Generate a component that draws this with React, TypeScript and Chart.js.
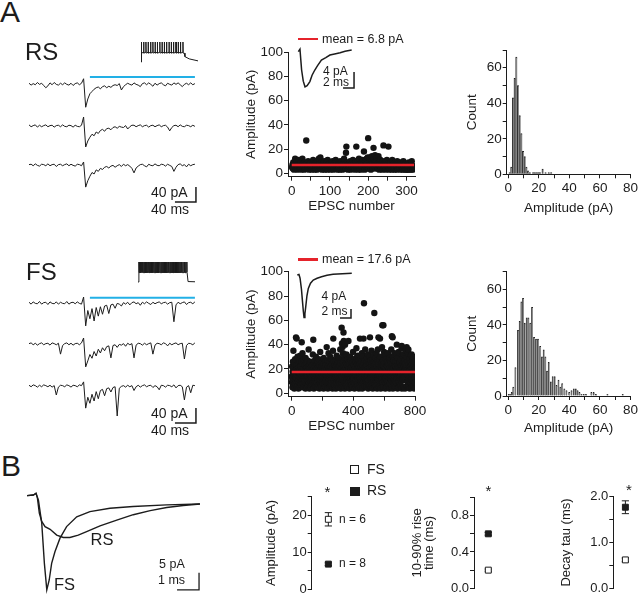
import React, { useEffect, useRef } from 'react';
import { Chart, registerables } from 'chart.js';

Chart.register(...registerables);

const FONT = "'Liberation Sans', Arial, Helvetica, sans-serif";
const INK = '#1c1c1c';
const RED = '#e5232b';
const BLUE = '#22b0e6';
Chart.defaults.font.family = FONT;
Chart.defaults.color = INK;

// ================= DATA =================
// Panel A example traces (pA relative to baseline), one sample every 4 ms
const TRACE_DT_MS = 4;
const rsTrace1 = [2,-3,1,-2,4,-1,2,-4,-10,-5, 3,-2,4,-1,-3,2,-2,3,-1,-3, 2,-4,1,3,-2,2, 14,-62,-40,-26,
  -20,-14,-10,-8,-13,-7,-5,-10,-6,-9, -4,-2,-4,1,-16,-7,-2,2,-1,-3, 3,-1,-3,-7,1,3,-2,3,-1,-6,
  2,-3,1,3,-2,-5,2,-1,-3,3, -1,3,-2,-7,-1,2,-2,3,-2,1];
const rsTrace2 = [3,-2,1,3,-3,2,-2,1,3,-2, 1,2,-3,1,2,-2,3,-1,-2,2, 1,-3,2,-1,-2,2, 24,-56,-40,-30,
  -22,-26,-16,-20,-12,-9,-14,-7,-6,-10, -4,-2,-6,-1,-3,-4,1,-8,-2,2, 2,-2,1,3,-2,1,2,-3,1,2,
  -2,1,3,-2,1,2,-3,-13,-4,1, 2,-2,3,-1,-2,2,1,-2,2,-1];
const rsTrace3 = [1,2,-2,3,-1,-3,2,1,-2,3, -2,1,2,-4,1,2,-2,1,3,-2, 2,-1,-3,2,1,-2, 8,-59,-42,-30,
  -20,-24,-13,-17,-9,-12,-6,-4,-8,-3, -1,-6,-2,1,-4,2,-2,1,-3,-9, -21,-8,-3,1,2,-2,-5,2,-1,-2,
  3,-1,-2,2,1,-3,2,-1,-4,-17, -6,1,3,-2,1,-5,2,-2,1,2];
const fsTrace1 = [2,-3,3,-1,-2,4,-3,1,2,-4, 3,-1,-2,3,-3,2,-1,-2,4,-3, 1,2,-2,3,-1,-3, 16,-61,-20,-42,
  -15,-48,-12,-35,-10,-30,-8,-6,-28,-5, -3,-14,-1,-3,-8,1,-3,2,-5,1, 3,-2,1,-6,2,-2,3,-1,-4,2,
  -2,1,3,-2,1,2,-3,1,2,-50, -5,2,-2,1,3,-4,1,2,-2,3];
const fsTrace2 = [1,3,-2,2,-3,1,3,-2,1,2, -3,3,1,-2,2,-27,-4,1,3,-2, 2,-3,1,2,-2,3, 16,-61,-45,-28,
  -38,-20,-32,-14,-24,-10,-18,-7,-5,-37, -4,-2,-9,-1,-3,1,-6,2,-2,1, -37,-3,2,1,-3,2,-2,1,3,-27,
  -3,2,1,-2,3,1,-5,2,-2,1, 3,-2,1,2,-40,-4,2,1,-2,3];
const fsTrace3 = [2,-2,3,1,-3,2,-2,3,1,-2, 2,-3,1,-24,-3,2,1,-2,3,1, -3,2,1,-2,3,1, 11,-59,-30,-46,
  -22,-40,-15,-34,-12,-9,-26,-7,-5,-16, -4,-2,-80,-6,-1,1,-3,2,-2,1, -12,-2,2,-3,1,3,-2,1,2,-4,
  1,-2,-10,2,1,-3,2,1,-2,3, -5,1,2,-2,-37,-3,1,-18,2,1];
const stimWindowMs = [116, 316];
const traceScaleBar = { pA: 40, ms: 40 };

// current-clamp spike trains (ms, mV)
const rsSpikeTimes = [2, 12, 22, 32, 43, 53, 63, 73, 84, 94, 104, 114, 125, 135, 145, 156, 166, 176, 187];
const fsSpikeTimes = [4,7,11,15,18,22,26,30,33,37,41,45,49,52,56,60,64,68,71,75,79,83,87,91,95,98,102,106,110,114,
  118,122,126,130,134,138,142,146,150,154,158,163,167,171,175,179,183,188,192,196,200,205,209,213,218];
const spikeLevels = { rest: -70, peak: 20, trough: -30 };
const rsSpikeTail: [number, number][] = [[193, -30], [196, -46], [215, -56], [254, -65]];
const fsSpikeTail: [number, number][] = [[222, -28], [223, -68], [254, -69]];

// averaged EPSC insets (ms, pA)
const rsEpscInset: [number, number][] = [[0,-0.4],[0.3,0.2],[0.6,-5],[0.9,-7.8],[1.22,-9.2],[1.6,-8.9],[2.1,-7.9],[2.5,-6.3],
  [3.0,-5],[3.5,-3.9],[4.2,-2.5],[5.0,-1.9],[5.75,-1.25],[6.6,-1.0],[7.6,-0.7],[8.5,-0.3],[9.7,0]];
const fsEpscInset: [number, number][] = [[0,-0.75],[0.3,-0.5],[0.5,-2.2],[0.75,-7],[0.92,-11.9],[1.1,-17],[1.22,-19.6],
  [1.38,-18],[1.53,-14.9],[1.75,-10],[2.0,-6.7],[2.4,-4.4],[2.9,-3],[3.6,-2.2],[4.4,-1.5],[5.4,-0.9],[6.5,-0.45],[8.2,-0.2],[9.9,0]];
const insetScaleBar = { pA: 4, ms: 2 };

// EPSC amplitudes (pA) by EPSC number
const rsAmps = [
  5,7,4,9,6,3,8,5,12,6,4,7,5,10,3,6,8,4,11,5,
  6,4,9,5,3,7,6,12,4,8,5,6,3,9,7,4,5,27,6,8,
  4,6,10,5,3,7,8,4,6,9,5,3,6,7,4,11,5,6,8,3,
  7,5,4,9,6,3,10,5,7,4,12,6,8,5,13,4,6,9,3,7,
  5,6,4,8,10,3,6,5,7,4,9,6,3,11,5,7,4,6,8,5,
  3,7,6,4,9,5,10,6,3,8,4,7,5,6,11,4,6,9,5,3,
  6,8,4,5,7,3,10,6,4,9,5,7,3,6,8,4,12,5,6,7,
  4,17,22,6,5,9,3,7,4,8,6,5,10,3,7,6,4,9,5,11,
  6,4,8,5,3,7,6,10,22,4,5,9,6,3,7,12,5,4,8,6,
  3,7,5,9,11,4,6,8,18,5,3,7,10,6,4,12,8,5,13,29,
  6,4,9,13,5,7,3,11,6,14,8,4,12,21,6,9,5,15,7,4,
  10,6,13,5,8,4,14,7,3,9,6,11,5,4,8,6,3,10,7,23,
  5,8,4,6,9,3,7,5,11,4,6,8,22,5,3,7,6,4,9,5,
  6,3,11,5,7,4,8,6,3,5,9,4,7,6,3,10,5,4,8,6,
  4,7,5,3,9,6,4,8,5,3,7,10,4,6,5,3,8,4,6,3,
  5,7,3,6,4,9,3,5,8,4,6,3,7,10,4,5,3,6,4,5];
const fsAmps = [
  14,9,22,12,5,18,10,26,13,8,35,16,11,21,6,15,4,24,12,17,8,28,11,14,19,7,13,46,10,16,23,45,5,12,20,6,15,30,11,18,
  10,25,13,4,17,12,21,9,27,14,6,19,11,16,31,5,13,22,10,15,7,18,12,26,42,9,14,20,11,33,16,8,24,13,5,19,12,28,10,15,
  12,9,17,23,11,6,14,20,4,29,13,10,18,7,25,12,16,5,21,14,8,27,11,15,19,6,13,22,10,36,17,9,12,24,4,14,20,11,16,7,
  18,12,26,5,15,10,21,13,7,17,11,23,14,8,19,12,32,9,16,44,10,20,13,4,25,15,11,18,9,27,12,16,6,22,14,10,30,13,19,5,
  15,11,24,9,17,13,5,21,12,26,10,16,19,7,14,28,11,13,23,4,18,12,15,8,34,10,20,14,11,17,7,22,13,5,16,25,12,10,19,14,
  11,18,8,24,13,15,4,29,12,17,9,21,14,6,19,12,26,10,16,13,5,23,11,18,15,9,38,14,20,12,17,7,27,13,4,22,15,9,33,11,
  16,12,20,8,25,14,5,18,13,30,9,15,22,11,17,6,28,12,19,14,10,24,13,16,4,21,12,35,15,45,11,18,9,26,14,20,5,7,23,16,
  13,10,19,27,12,15,4,22,14,18,11,31,9,16,24,13,20,6,17,12,26,10,15,21,5,9,29,12,18,13,23,8,16,11,36,14,19,4,25,12,
  15,20,9,54,13,41,17,11,24,38,12,18,33,5,26,50,10,43,16,22,9,30,13,19,4,40,15,27,8,21,14,17,25,6,32,10,19,13,23,16,
  11,28,14,5,18,22,12,43,15,20,10,26,13,17,4,24,15,11,30,14,19,12,21,9,27,16,6,7,22,15,18,11,25,14,5,20,13,34,12,17,
  9,23,15,12,19,28,4,16,14,21,8,18,13,26,10,22,15,5,29,37,14,17,11,24,9,20,13,31,6,12,25,10,18,14,22,4,27,15,11,19,
  13,24,45,16,10,21,5,28,12,18,9,26,15,11,33,17,20,4,23,10,16,30,12,19,14,45,11,25,74,17,13,21,6,27,15,12,36,18,10,22,
  14,19,11,25,5,9,23,13,29,12,17,20,10,15,32,4,22,8,18,26,11,16,24,14,6,21,30,46,13,17,12,27,15,19,5,23,14,35,11,18,
  16,9,22,13,28,4,19,15,25,10,18,14,31,11,21,66,13,26,5,17,24,12,15,20,10,29,6,18,11,33,16,22,13,4,27,15,19,12,36,14,
  11,24,46,17,13,20,5,28,15,12,19,14,45,9,22,16,30,4,18,13,25,10,17,21,14,38,12,56,16,23,9,19,27,5,56,15,11,22,34,14,
  18,12,25,10,16,21,4,31,9,20,13,17,28,11,15,23,5,19,10,26,14,9,22,16,33,6,18,13,24,11,20,15,29,4,17,13,21,8,27,16,
  12,19,14,25,11,36,5,22,13,47,17,10,24,14,46,20,4,30,16,9,21,13,27,11,18,6,33,12,23,14,10,19,16,26,5,22,9,17,31,15,
  14,40,12,20,16,25,4,18,29,13,22,15,10,34,17,5,24,14,19,9,26,13,18,11,21,6,28,12,15,23,10,19,37,39,4,22,12,31,17,13,
  20,11,25,15,5,18,32,13,22,16,12,27,14,19,4,24,15,35,13,21,17,11,29,14,20,38,6,23,16,10,26,13,19,15,33,5,36,18,14,24,
  12,21,16,10,28,4,19,13,25,15,9,22,17,31,12,20,5,32,16,11,24,13,18,27,10,21,15,6,30,17,14,23,11,19,4,26,13,20,9,18];
const rsMean = 6.8;
const fsMean = 17.6;

// amplitude histograms (bin centre pA, count)
const rsHistCenters = [1.0,2.1,3.2,4.3,5.4,6.5,7.6,8.7,9.8,10.9,12.0,13.1,14.2,16.4,17.5,18.6,19.7,20.8,22.6,24.5,26.6,28.2];
const rsHistCounts = [1,4,43,54,66,50,33,23,13,10,4,2,1,1,1,1,1,1,3,1,1,1];
const fsHistCenters = [0.4,1.4,2.4,3.4,4.8,6.5,7.6,8.7,9.8,10.9,12.2,13.3,14.5,15.7,17,18.3,19.6,21,22.2,23.3,
  24.4,25.5,26.6,28,29.2,30.5,31.7,33,34.2,35.4,36.8,38.2,40,41.5,43,44.3,45.5,46.7,48,49.5,51,54.5,56,57.5,65,75];
const fsHistCounts = [1,1,2,5,16,37,42,53,55,41,44,44,41,50,33,32,32,28,22,26,22,14,19,8,11,11,6,9,5,7,
  4,3,2,3,4,4,3,2,1,1,1,2,2,1,1,1];

// Panel B averaged EPSCs (ms, pA)
const fsAvgEpsc: [number, number][] = [[0,0.1],[0.29,0.3],[0.41,0.8],[0.47,-0.4],[0.52,-1.2],[0.67,-8],[0.79,-19.8],[0.9,-27.6],
  [1.01,-24.7],[1.12,-19.8],[1.27,-16.4],[1.5,-12.4],[1.8,-9],[2.26,-6.1],[2.86,-4.6],[3.77,-3.6],[4.82,-3.1],[6.35,-2.6],[7.86,-2.35]];
const rsAvgEpsc: [number, number][] = [[0,0.1],[0.29,0.3],[0.41,0.8],[0.47,-0.4],[0.56,-5],[0.67,-7.5],[0.82,-9],[1.05,-9.8],
  [1.35,-11.5],[1.65,-12.2],[1.95,-12.2],[2.33,-11.5],[2.71,-10.5],[3.32,-8.8],[4.08,-7.1],[4.83,-5.5],[5.6,-4.3],[6.35,-3.4],[7.1,-2.8],[7.86,-2.35]];
const avgScaleBar = { pA: 5, ms: 1 };

// Panel B group summaries: [FS, RS]
const ampMean = [18.9, 6.8];
const ampSem = [1.8, 0.35];
const riseMean = [0.2, 0.6];
const riseSem = [0.012, 0.015];
const tauMean = [0.62, 1.77];
const tauSem = [0.04, 0.14];

// ================= HELPERS =================
type Rect = [number, number, number, number];
type Area = [number, number, number, number];

function base(padding: any) {
  return {
    responsive: false, animation: false, devicePixelRatio: 1, events: [],
    layout: { padding },
    plugins: { legend: { display: false }, tooltip: { enabled: false }, title: { display: false } },
  };
}
function frame(c: Rect, a: Area, xVisible: boolean, yVisible: boolean) {
  const [cl, ct, cw, ch] = c;
  const [al, at, ar, ab] = a;
  return {
    padding: { left: yVisible ? 0 : al - cl, top: at - ct, right: cl + cw - ar, bottom: xVisible ? 0 : ct + ch - ab },
    yW: al - cl,
    xH: ct + ch - ab,
  };
}
const hidden = (min: number, max: number) => ({ type: 'linear', display: false, min, max });
const every = (n: number, fmt: (v: number) => string) => (v: number) =>
  Math.abs(v / n - Math.round(v / n)) < 1e-6 ? fmt(v) : '';
function axis(o: { pos: 'left' | 'bottom'; min: number; max: number; ticks: number[]; label: (v: number) => string;
  size: number; title: string | string[]; titleSize: number; titleLH?: number; fit: number; }) {
  return {
    type: 'linear', position: o.pos, min: o.min, max: o.max, offset: false,
    afterBuildTicks: (s: any) => { s.ticks = o.ticks.map((v) => ({ value: v })); },
    afterFit: (s: any) => { if (o.pos === 'left') s.width = o.fit; else s.height = o.fit; },
    ticks: { autoSkip: false, maxRotation: 0, minRotation: 0, padding: o.pos === 'left' ? 1 : 2,
      font: { size: o.size }, color: INK, callback: (v: number) => o.label(v) },
    grid: { display: true, drawOnChartArea: false, drawTicks: true, tickLength: 4, color: INK, lineWidth: 1, offset: false },
    border: { display: true, color: INK, width: 1 },
    title: { display: true, text: o.title, color: INK, padding: 0, font: { size: o.titleSize, lineHeight: o.titleLH ?? 1.2 } },
  };
}
const line = (data: any[], color: string, width: number) => ({
  data, borderColor: color, borderWidth: width, pointRadius: 0, tension: 0, fill: false, showLine: true,
});

// ---- Panel A traces ----
function traceConfig(traces: number[][], baselines: number[], stimLevel: number, sbCorner: [number, number]) {
  const ds: any[] = traces.map((tr, k) =>
    line(tr.map((v, i) => ({ x: i * TRACE_DT_MS, y: v + baselines[k] })), INK, 1));
  ds.push(line([{ x: stimWindowMs[0], y: stimLevel }, { x: stimWindowMs[1], y: stimLevel }], BLUE, 2));
  ds.push(line([{ x: sbCorner[0] - traceScaleBar.ms, y: sbCorner[1] }, { x: sbCorner[0], y: sbCorner[1] },
    { x: sbCorner[0], y: sbCorner[1] + traceScaleBar.pA }], INK, 1.5));
  return {
    type: 'line', data: { datasets: ds },
    options: { ...base(0), scales: { x: hidden(0, 323.8), y: hidden(-373.3, 0) } },
  };
}
function spikeConfig(times: number[], trough: number, tail: [number, number][]) {
  const pts: any[] = [{ x: 0, y: spikeLevels.rest }, { x: times[0], y: spikeLevels.rest }];
  times.forEach((t, i) => {
    pts.push({ x: t, y: spikeLevels.peak });
    pts.push({ x: t + 0.8, y: trough });
    if (i < times.length - 1) pts.push({ x: times[i + 1] - 0.2, y: trough + 4 });
  });
  tail.forEach(([x, y]) => pts.push({ x, y }));
  return {
    type: 'line', data: { datasets: [line(pts, INK, 1)] },
    options: { ...base(0), scales: { x: hidden(0, 254), y: hidden(-88, 38) } },
  };
}
function epscInsetConfig(trace: [number, number][], yMin: number, yMax: number, sbCorner: [number, number]) {
  return {
    type: 'line',
    data: { datasets: [
      line(trace.map(([x, y]) => ({ x, y })), INK, 1.5),
      line([{ x: sbCorner[0] - insetScaleBar.ms, y: sbCorner[1] }, { x: sbCorner[0], y: sbCorner[1] },
        { x: sbCorner[0], y: sbCorner[1] + insetScaleBar.pA }], INK, 1.5),
    ] },
    options: { ...base(0), scales: { x: hidden(-0.42, 10.85), y: hidden(yMin, yMax) } },
  };
}
function scatterConfig(amps: number[], mean: number, c: Rect, a: Area, xMin: number, xMax: number, xTicks: number[], xEvery: number) {
  const f = frame(c, a, true, true);
  return {
    type: 'scatter',
    data: { datasets: [
      line([{ x: 0, y: mean }, { x: amps.length, y: mean }], RED, 2.5),
      { data: amps.map((v, i) => ({ x: i + 1, y: v })), pointRadius: 3.2, pointBackgroundColor: '#141414', pointBorderWidth: 0 },
    ] },
    options: { ...base(f.padding), scales: {
      x: axis({ pos: 'bottom', min: xMin, max: xMax, ticks: xTicks, label: every(xEvery, String), size: 13.5,
        title: 'EPSC number', titleSize: 13.5, fit: f.xH }),
      y: axis({ pos: 'left', min: -2.8, max: 100, ticks: [0, 20, 40, 60, 80, 100], label: String, size: 13.5,
        title: 'Amplitude (pA)', titleSize: 13.5, fit: f.yW }),
    } },
  };
}
function histConfig(centers: number[], counts: number[], c: Rect, a: Area) {
  const f = frame(c, a, true, true);
  return {
    type: 'bar',
    data: { datasets: [{
      data: centers.map((x, i) => ({ x, y: counts[i] })),
      backgroundColor: '#8e8e8e', borderColor: '#202020', borderWidth: { left: 1, right: 0, top: 1, bottom: 0 },
      barPercentage: 1, categoryPercentage: 1, borderSkipped: 'bottom',
    }] },
    options: { ...base(f.padding), scales: {
      x: axis({ pos: 'bottom', min: -1, max: 80, ticks: [0, 10, 20, 30, 40, 50, 60, 70, 80], label: every(20, String), size: 13.5,
        title: 'Amplitude (pA)', titleSize: 13.5, fit: f.xH }),
      y: axis({ pos: 'left', min: 0, max: 70, ticks: [0, 10, 20, 30, 40, 50, 60, 70], label: every(20, String), size: 13.5,
        title: 'Count', titleSize: 13.5, fit: f.yW }),
    } },
  };
}
function avgConfig() {
  const sx = 7.82, sy = -27.6;
  return {
    type: 'line',
    data: { datasets: [
      line(fsAvgEpsc.map(([x, y]) => ({ x, y })), INK, 1.4),
      line(rsAvgEpsc.map(([x, y]) => ({ x, y })), INK, 1.4),
      line([{ x: sx - avgScaleBar.ms, y: sy }, { x: sx, y: sy }, { x: sx, y: sy + avgScaleBar.pA }], INK, 1.3),
    ] },
    options: { ...base(0), scales: { x: hidden(0, 8.0), y: hidden(-28.82, 2.35) } },
  };
}
function dotConfig(means: number[], sems: number[], c: Rect, a: Area, xPos: number, yMax: number, ticks: number[],
  labelEvery: number, fmt: (v: number) => string, title: string | string[], titleLH: number) {
  const f = frame(c, a, false, true);
  const marker = (m: number, fill: string) => ({
    data: [{ x: xPos, y: m }], pointStyle: 'rect', pointRadius: 4.2, pointBackgroundColor: fill,
    pointBorderColor: INK, pointBorderWidth: 1, clip: false,
  });
  const err = (m: number, s: number) => ({
    data: [{ x: xPos, y: m - s }, { x: xPos, y: m + s }], showLine: true, borderColor: INK, borderWidth: 1,
    pointStyle: 'line', pointRadius: 3.6, pointBorderColor: INK, pointBorderWidth: 1, clip: false,
  });
  return {
    type: 'scatter',
    data: { datasets: [marker(means[0], '#ffffff'), marker(means[1], INK), err(means[0], sems[0]), err(means[1], sems[1])] },
    options: { ...base(f.padding), scales: {
      x: hidden(0, 1),
      y: axis({ pos: 'left', min: 0, max: yMax, ticks, label: every(labelEvery, fmt), size: 13,
        title, titleSize: 13, titleLH, fit: f.yW }),
    } },
  };
}

// ================= COMPONENTS =================
function ChartBox({ rect, make }: { rect: Rect; make: () => any }) {
  const ref = useRef<HTMLCanvasElement>(null);
  useEffect(() => {
    const chart = new Chart(ref.current as HTMLCanvasElement, make());
    return () => chart.destroy();
  }, []);
  return (
    <canvas ref={ref} width={rect[2]} height={rect[3]}
      style={{ position: 'absolute', left: rect[0], top: rect[1], width: rect[2], height: rect[3] }} />
  );
}
function Txt({ t, x, y, s }: { t: string; x: number; y: number; s: number }) {
  return (
    <div style={{ position: 'absolute', left: x, top: y - 0.8465 * s, fontSize: s, lineHeight: 1, fontFamily: FONT,
      color: INK, whiteSpace: 'nowrap' }}>{t}</div>
  );
}

const texts = [
  { t: 'A', x: 0, y: 22, s: 30 },
  { t: 'RS', x: 25, y: 60, s: 24 },
  { t: 'FS', x: 26, y: 280, s: 24 },
  { t: '40 pA', x: 151, y: 197, s: 14 },
  { t: '40 ms', x: 151, y: 213.5, s: 14 },
  { t: '40 pA', x: 151, y: 417.5, s: 14 },
  { t: '40 ms', x: 151, y: 435, s: 14 },
  { t: 'mean = 6.8 pA', x: 322, y: 43.5, s: 12.5 },
  { t: 'mean = 17.6 pA', x: 322, y: 264, s: 12.5 },
  { t: '4 pA', x: 323, y: 75, s: 12 },
  { t: '2 ms', x: 323, y: 86, s: 12 },
  { t: '4 pA', x: 321.5, y: 300.5, s: 12 },
  { t: '2 ms', x: 321.5, y: 315, s: 12 },
  { t: 'B', x: 1, y: 476, s: 30 },
  { t: 'RS', x: 90.5, y: 545, s: 16.5 },
  { t: 'FS', x: 54, y: 590, s: 16.5 },
  { t: '5 pA', x: 159, y: 569, s: 12.5 },
  { t: '1 ms', x: 158, y: 585, s: 12.5 },
  { t: 'n = 6', x: 339, y: 523.5, s: 12 },
  { t: 'n = 8', x: 339, y: 567.5, s: 12 },
  { t: 'FS', x: 367, y: 474, s: 14 },
  { t: 'RS', x: 367, y: 495, s: 14 },
  { t: '*', x: 324.5, y: 497, s: 15 },
  { t: '*', x: 485.5, y: 496, s: 15 },
  { t: '*', x: 626, y: 495, s: 15 },
];

export default function App() {
  return (
    <div style={{ position: 'fixed', left: 0, top: 0, width: 640, height: 594, overflow: 'hidden', background: '#fff' }}>
      <ChartBox rect={[29, 70, 170, 140]} make={() => traceConfig([rsTrace1, rsTrace2, rsTrace3], [-37.3, -149.3, -253.3], -18.7, [318, -352])} />
      <ChartBox rect={[29, 290, 170, 140]} make={() => traceConfig([fsTrace1, fsTrace2, fsTrace3], [-34.7, -144, -256], -20.5, [318, -354.7])} />
      <ChartBox rect={[141, 38, 57, 28]} make={() => spikeConfig(rsSpikeTimes, spikeLevels.trough, rsSpikeTail)} />
      <ChartBox rect={[138, 258, 57, 28]} make={() => spikeConfig(fsSpikeTimes, spikeLevels.trough + 2, fsSpikeTail)} />
      <ChartBox rect={[243, 42, 185, 172]} make={() => scatterConfig(rsAmps, rsMean, [243, 42, 185, 172], [288, 52, 415, 176.7], -9.7, 322.5, [0, 50, 100, 150, 200, 250, 300], 100)} />
      <ChartBox rect={[243, 262, 190, 172]} make={() => scatterConfig(fsAmps, fsMean, [243, 262, 190, 172], [288, 271.7, 415, 396.7], -24, 800, [0, 200, 400, 600, 800], 400)} />
      <ChartBox rect={[296, 45, 62, 50]} make={() => epscInsetConfig(rsEpscInset, -11.25, 1.25, [10.13, -9.5])} />
      <ChartBox rect={[295, 268, 62, 55]} make={() => epscInsetConfig(fsEpscInset, -22.1, 2.36, [9.76, -19.9])} />
      <ChartBox rect={[464, 40, 176, 176]} make={() => histConfig(rsHistCenters, rsHistCounts, [464, 40, 176, 176], [506.7, 50, 631.7, 174.3])} />
      <ChartBox rect={[464, 261, 176, 175]} make={() => histConfig(fsHistCenters, fsHistCounts, [464, 261, 176, 175], [506.7, 271.7, 631.7, 396])} />
      <ChartBox rect={[27, 488, 176, 106]} make={avgConfig} />
      <ChartBox rect={[264, 486, 90, 114]} make={() => dotConfig(ampMean, ampSem, [264, 486, 90, 114], [311.7, 496.7, 345, 589.3], 0.5, 25, [0, 5, 10, 15, 20, 25], 10, (v) => String(v), 'Amplitude (pA)', 1.2)} />
      <ChartBox rect={[412, 486, 100, 114]} make={() => dotConfig(riseMean, riseSem, [412, 486, 100, 114], [474, 497.5, 504, 588.3], 0.477, 1.0, [0, 0.2, 0.4, 0.6, 0.8, 1.0], 0.4, (v) => v.toFixed(1), ['10-90% rise', 'time (ms)'], 0.87)} />
      <ChartBox rect={[559, 486, 81, 114]} make={() => dotConfig(tauMean, tauSem, [559, 486, 81, 114], [613.3, 496.7, 640, 588.3], 0.562, 2.0, [0, 0.5, 1.0, 1.5, 2.0], 1, (v) => v.toFixed(1), 'Decay tau (ms)', 1.2)} />
      <div style={{ position: 'absolute', left: 297.5, top: 37.8, width: 20, height: 2.5, background: RED }} />
      <div style={{ position: 'absolute', left: 297.5, top: 258, width: 20, height: 2.5, background: RED }} />
      <div style={{ position: 'absolute', left: 350, top: 465, width: 9, height: 9, border: `1px solid ${INK}`, boxSizing: 'border-box', background: '#fff' }} />
      <div style={{ position: 'absolute', left: 350, top: 486.5, width: 9.5, height: 9.5, background: INK }} />
      {texts.map((d, i) => <Txt key={i} {...d} />)}
    </div>
  );
}
